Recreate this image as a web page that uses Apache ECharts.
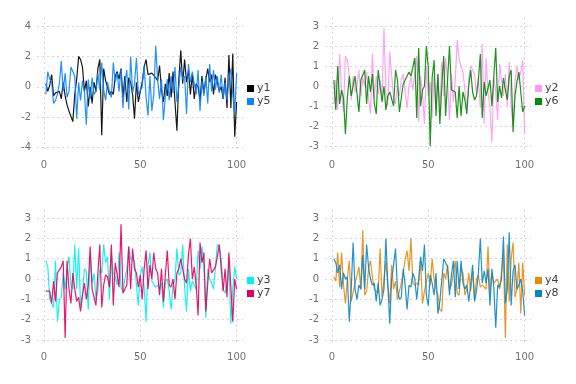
<!DOCTYPE html>
<html><head><meta charset="utf-8">
<script src="https://cdn.jsdelivr.net/npm/echarts@6/dist/echarts.min.js"></script>
<style>html,body{margin:0;padding:0;background:#fff}#c{width:576px;height:384px}</style>
</head><body><div id="c"></div>
<script>
var y1 = [0.2,-0.3,0.1,0.8,-0.6,-0.4,-0.5,-0.3,-0.8,0.3,-0.6,-1.2,-1.6,-1.7,-2.3,-0.5,0.5,2.0,1.8,1.3,-0.3,0.4,-1.3,0.0,-1.1,0.3,-0.3,1.2,1.8,-3.2,1.2,0.4,0.3,-0.5,-0.3,-0.5,0.7,1.0,0.5,1.2,-0.7,0.7,-1.0,0.6,0.3,-0.5,-2.1,0.3,-1.0,-0.3,0.3,1.3,1.8,0.8,0.9,0.9,1.0,0.6,0.4,1.4,-0.2,-1.0,0.2,-0.6,0.9,-0.7,1.0,-1.0,-2.9,0.5,2.4,0.2,1.8,0.3,1.1,-0.5,0.8,-0.8,0.2,0.0,-0.9,0.7,-0.4,0.5,1.2,0.3,0.8,-0.5,0.8,0.3,-0.3,0.0,-0.8,0.6,-1.4,2.1,-1.4,2.2,-3.3,-1.0];
var y5 = [-0.5,1.0,0.5,0.3,-1.1,-0.9,-0.5,0.2,1.7,-0.3,0.9,-0.7,-0.3,1.3,1.0,0.7,-2.1,0.3,-0.9,0.4,-0.3,-2.5,0.5,-0.8,0.6,-0.5,-0.3,0.9,-0.2,1.6,-0.2,-0.9,0.3,-0.3,-0.7,1.6,0.3,0.9,-0.3,1.2,-1.4,0.3,1.1,-1.5,2.0,-0.4,0.2,1.9,-0.5,-0.6,0.0,1.4,-0.7,-1.9,0.7,-1.6,-0.5,2.7,0.5,-0.8,0.5,-2.2,-0.6,0.5,-0.9,0.7,-0.4,1.3,-1.0,0.0,1.3,0.5,0.7,-1.8,1.5,0.3,1.0,1.1,-0.5,1.1,-1.6,0.4,-0.6,0.7,-1.1,1.5,-0.3,1.1,-0.2,0.7,-0.4,0.8,-0.8,0.3,-0.9,0.6,1.2,-0.5,-1.8,0.9];
var y2 = [-0.9,0.3,-1.2,1.6,-0.3,-1.3,1.5,1.3,0.5,-0.7,0.5,-0.3,0.0,0.8,-0.5,0.4,0.0,0.7,-0.6,-1.4,1.6,-0.6,0.5,-0.4,0.3,-0.6,2.9,-0.3,-1.0,1.7,1.7,-0.6,-0.9,0.0,-0.5,0.3,0.6,-0.3,-1.1,0.0,0.5,-0.2,0.6,1.5,-1.8,0.5,-0.4,-1.9,1.0,-0.5,0.2,-1.6,0.5,-0.9,0.6,-1.3,1.2,-0.5,1.4,0.3,-1.7,0.6,-0.8,0.3,2.3,1.3,1.0,0.7,-0.2,-1.1,0.4,1.0,0.9,0.6,-0.4,0.4,-1.1,2.1,-1.9,1.4,-0.3,-1.1,-2.8,0.4,-0.3,-1.7,1.1,0.3,-0.5,0.6,-1.0,1.2,-1.0,-2.0,0.2,1.0,0.3,0.7,1.3,-2.4];
var y6 = [0.3,-1.2,1.0,-0.9,-0.2,-0.6,-2.4,-0.6,0.5,-0.5,-0.6,0.5,-0.4,-1.3,0.3,0.2,0.8,-0.9,0.5,-0.3,0.6,-0.9,-1.4,0.8,0.8,-0.8,0.0,-1.2,-0.5,-0.3,-0.2,-1.0,0.8,0.3,-1.3,-0.6,0.1,0.3,0.5,0.7,0.5,0.6,1.4,-1.6,1.9,-1.0,-0.2,0.0,2.0,0.9,-3.0,0.4,1.3,-1.5,0.6,-1.9,0.0,1.5,-1.5,0.3,2.0,-0.2,-0.3,-0.3,-1.6,0.0,-1.5,-0.3,-0.7,-1.4,0.0,0.8,-0.3,-0.7,-0.5,0.3,1.6,-1.6,0.2,-0.5,-0.5,0.3,-1.0,0.5,1.9,-0.8,0.0,-0.6,0.4,-0.2,-0.7,0.5,0.8,-2.3,-0.5,0.2,0.7,0.7,-1.3,-1.0];
var y3 = [0.9,0.6,-1.0,-1.0,-1.4,0.9,-2.1,-1.0,-0.9,0.3,-0.5,0.5,1.1,-0.3,-0.5,1.7,-0.5,1.5,-1.3,-0.8,0.5,0.4,-1.5,1.2,-0.2,0.3,-1.0,-0.6,0.5,0.3,1.7,0.8,1.1,-1.0,1.3,0.3,0.1,-0.3,1.3,-0.4,-0.6,0.0,0.5,1.6,1.0,1.0,0.9,-0.3,-1.3,0.2,0.6,-0.4,-2.1,0.7,1.3,-0.1,-0.1,-0.4,-0.3,-0.5,-0.2,-1.4,-0.1,0.0,-0.6,-1.5,-0.3,0.0,1.5,0.2,0.3,1.7,-0.4,-1.6,0.5,-0.6,-0.1,-0.3,-0.5,1.4,0.5,1.6,0.7,-1.9,0.5,0.0,-0.2,-0.5,0.6,1.7,1.6,1.0,-0.5,-0.7,-0.2,0.7,-2.2,-0.5,0.6,0.0];
var y7 = [-0.6,-0.6,-0.6,-1.2,-0.1,-1.1,0.3,0.3,0.6,0.9,-2.9,0.9,-0.5,-1.2,0.3,-0.5,-1.1,-0.9,-1.6,-0.8,-0.2,-1.0,-0.3,1.6,-0.5,-0.5,-1.3,0.3,1.7,-1.4,-0.3,0.2,0.1,-0.4,1.7,-1.3,0.8,0.2,-0.4,2.7,-0.7,-0.5,-0.3,1.6,-0.5,1.5,0.5,0.3,-0.4,0.2,-1.0,0.5,1.4,-0.5,0.7,0.0,1.3,0.5,0.3,-0.8,0.5,-1.1,0.2,1.4,-0.3,-0.4,0.0,-1.0,0.3,0.5,1.0,1.0,0.0,-0.2,1.2,2.0,0.0,0.6,-0.3,-1.8,1.8,0.8,1.3,-1.6,-0.2,1.0,0.3,0.3,0.6,1.1,1.7,0.5,-0.6,0.5,-0.9,1.3,1.3,-2.1,0.0,-0.5];
var y4 = [0.1,-0.1,1.3,-0.4,1.3,-0.3,-1.2,0.0,0.9,-1.1,-1.1,-0.2,0.2,0.6,-0.5,2.4,-0.8,-0.6,0.5,0.9,0.1,-0.5,-0.5,-0.7,1.5,-0.9,0.0,0.9,-0.3,-1.2,0.7,-0.5,-0.1,-1.0,-1.0,-0.2,0.3,1.0,1.4,0.4,2.0,-0.2,-0.3,-0.2,-0.3,0.9,-1.2,-0.6,-0.6,0.3,-0.3,1.0,0.0,-0.5,-0.8,-1.5,-1.6,0.3,0.0,0.7,-0.5,-0.3,0.3,0.9,-0.7,-0.8,0.5,0.3,-0.8,-0.5,0.3,-0.6,0.4,-1.0,0.0,0.2,-0.4,-0.3,-0.3,-0.5,1.6,-0.7,0.3,-0.2,-0.2,0.0,-0.5,-0.5,1.2,-2.9,1.7,-1.1,1.0,1.8,-0.9,-0.5,0.8,-1.7,0.8,-0.8];
var y8 = [1.0,0.8,0.3,0.7,-0.5,0.3,0.0,0.1,-2.1,-0.5,1.8,-0.5,-1.0,-0.3,-0.5,1.2,-0.5,1.7,0.6,0.0,-0.3,-0.2,-1.1,-0.2,-1.3,-1.0,-0.5,2.0,-0.3,-2.2,0.0,0.7,1.5,-0.5,-1.0,-0.9,0.5,-0.3,-1.5,-0.3,-0.4,0.3,0.0,-1.0,0.0,1.1,0.4,1.7,-0.8,-1.3,0.2,-0.2,-0.8,0.3,-1.7,-1.1,-1.1,1.0,0.8,0.6,-0.8,0.2,0.9,-0.9,0.9,-0.5,0.9,-0.2,-0.5,-0.3,-1.1,-0.3,0.7,-1.1,-0.6,0.3,2.0,-0.2,0.4,-0.2,0.5,-1.3,0.5,-0.4,-2.4,-0.3,-0.4,0.0,2.1,-1.2,-0.5,2.3,-1.3,0.4,0.7,-0.5,-0.3,0.0,-0.6,-1.8];

var xTicks = [0, 50, 100];
var yTicksA = [-4, -2, 0, 2, 4];
var yTicksB = [-3, -2, -1, 0, 1, 2, 3];

var panels = [
  {names: ['y1', 'y5'], data: [y1, y5], colors: ['#000000', '#0a84ff'], yTicks: yTicksA, ymin: -4.3, ymax: 4.6},
  {names: ['y2', 'y6'], data: [y2, y6], colors: ['#ff99f5', '#008a00'], yTicks: yTicksB, ymin: -3.3, ymax: 3.45},
  {names: ['y3', 'y7'], data: [y3, y7], colors: ['#00f0f0', '#e6005c'], yTicks: yTicksB, ymin: -3.2, ymax: 3.4},
  {names: ['y4', 'y8'], data: [y4, y8], colors: ['#e8890c', '#0a86c6'], yTicks: yTicksB, ymin: -3.2, ymax: 3.4}
];
var boxes = [
  {left: 37, top: 17, width: 206, height: 135},
  {left: 325, top: 17, width: 206, height: 135},
  {left: 37, top: 210, width: 206, height: 134},
  {left: 325, top: 210, width: 206, height: 134}
];
var legendPos = [
  {left: 247, top: 83},
  {left: 535, top: 83},
  {left: 247, top: 275},
  {left: 535, top: 275}
];

var gridLine = {show: true, lineStyle: {color: '#d4d4e4', type: [2, 3], width: 1}};
var labelStyle = {color: '#707070', fontSize: 10, fontFamily: 'DejaVu Sans'};

var option = {
  animation: false,
  backgroundColor: '#ffffff',
  grid: boxes.map(function (b) { return {left: b.left, top: b.top, width: b.width, height: b.height, containLabel: false}; }),
  xAxis: panels.map(function (p, i) {
    return {
      type: 'value', gridIndex: i, min: -3.6, max: 103.3,
      axisLine: {show: false}, axisTick: {show: false, customValues: xTicks},
      axisLabel: Object.assign({customValues: xTicks, margin: 8}, labelStyle),
      splitLine: gridLine
    };
  }),
  yAxis: panels.map(function (p, i) {
    return {
      type: 'value', gridIndex: i, min: p.ymin, max: p.ymax,
      axisLine: {show: false}, axisTick: {show: false, customValues: p.yTicks},
      axisLabel: Object.assign({customValues: p.yTicks, margin: 6}, labelStyle),
      splitLine: gridLine
    };
  }),
  legend: panels.map(function (p, i) {
    return {
      data: p.names, orient: 'vertical', left: legendPos[i].left, top: legendPos[i].top,
      icon: 'rect', itemWidth: 7, itemHeight: 7, itemGap: 2, padding: 0,
      textStyle: {color: '#404040', fontSize: 11, fontFamily: 'DejaVu Sans', padding: [0, 0, 0, -2]}
    };
  }),
  series: []
};

panels.forEach(function (p, i) {
  p.names.forEach(function (n, k) {
    option.series.push({
      name: n, type: 'line', xAxisIndex: i, yAxisIndex: i,
      data: p.data[k].map(function (v, j) { return [j + 1, v]; }),
      showSymbol: false, symbol: 'none',
      itemStyle: {color: p.colors[k]},
      lineStyle: {color: p.colors[k], width: 1.2, opacity: 0.9}
    });
  });
});

var chart = echarts.init(document.getElementById('c'), null, {renderer: 'canvas'});
chart.setOption(option);
</script>
</body></html>
